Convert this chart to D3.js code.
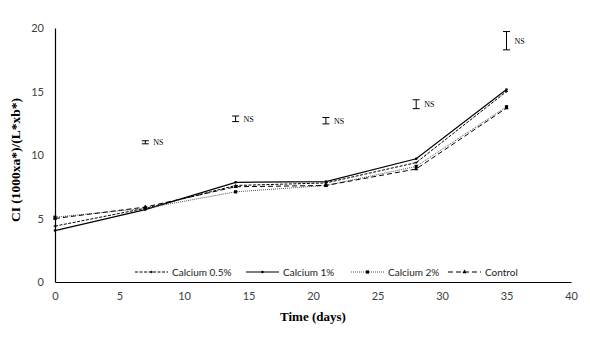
<!DOCTYPE html>
<html>
<head>
<meta charset="utf-8">
<script src="https://cdn.jsdelivr.net/npm/d3@7"></script>
<style>
  body { margin: 0; background: #fff; }
  svg { display: block; }
</style>
</head>
<body>
<div id="chart"></div>
<script>
(function() {
    'use strict';

    // --- data ---
    var days = [0, 7, 14, 21, 28, 35];
    var calcium05 = [4.4, 5.8, 7.6, 7.8, 9.4, 15.0];
    var calcium1 = [4.05, 5.7, 7.85, 7.9, 9.7, 15.15];
    var calcium2 = [5.1, 5.8, 7.1, 7.6, 9.1, 13.8];
    var control = [5.0, 5.9, 7.5, 7.6, 8.9, 13.7];

    // NS error bars (mean, half-width)
    var nsDays = [7, 14, 21, 28, 35];
    var nsMean = [11.0, 12.85, 12.7, 14.0, 19.0];
    var nsErr = [0.12, 0.22, 0.25, 0.35, 0.72];

    var xTicks = [0, 5, 10, 15, 20, 25, 30, 35, 40];
    var yTicks = [0, 5, 10, 15, 20];

    var series = [
        { name: 'Calcium 0.5%', values: calcium05, dash: '3,1.5', color: '#000', width: 1, marker: 'plus' },
        { name: 'Calcium 1%', values: calcium1, dash: null, color: '#000', width: 1.2, marker: 'dot' },
        { name: 'Calcium 2%', values: calcium2, dash: '1,1', color: '#555', width: 1, marker: 'square' },
        { name: 'Control', values: control, dash: '5,3', color: '#000', width: 1, marker: 'tri' }
    ];

    var width = 590, height = 343;
    var margin = { left: 55, top: 28, right: 19, bottom: 61 };

    var svg = d3.select('#chart').append('svg')
        .attr('width', width)
        .attr('height', height);

    var x = d3.scaleLinear().domain([0, 40]).range([margin.left, width - margin.right]);
    var y = d3.scaleLinear().domain([0, 20]).range([height - margin.bottom, margin.top]);

    var tickFont = '11px Lato, "Open Sans", sans-serif';
    var serif = '"Liberation Serif", "DejaVu Serif", serif';

    // axes
    var xAxis = svg.append('g')
        .attr('transform', 'translate(0,' + y(0) + ')')
        .call(d3.axisBottom(x).tickValues(xTicks).tickSize(0).tickPadding(10));
    xAxis.select('.domain').attr('stroke', '#000').attr('stroke-width', 1.2);
    xAxis.selectAll('text').style('font', tickFont).attr('fill', '#404040');

    var yAxis = svg.append('g')
        .attr('transform', 'translate(' + x(0) + ',0)')
        .call(d3.axisLeft(y).tickValues(yTicks).tickSize(0).tickPadding(11));
    yAxis.select('.domain').attr('stroke', '#000').attr('stroke-width', 1.2);
    yAxis.selectAll('text').style('font', tickFont).attr('fill', '#404040');

    // axis titles
    svg.append('text')
        .attr('x', (x(0) + x(40)) / 2)
        .attr('y', 321)
        .attr('text-anchor', 'middle')
        .style('font', 'bold 13px ' + serif)
        .text('Time (days)');

    svg.append('text')
        .attr('transform', 'translate(20,160) rotate(-90)')
        .attr('text-anchor', 'middle')
        .style('font', 'bold 13.5px ' + serif)
        .text('CI (1000xa*)/(L*xb*)');

    // lines
    var line = d3.line()
        .x(function(d, i) { return x(days[i]); })
        .y(function(d) { return y(d); });

    function drawMarker(g, type, cx, cy) {
        if (type === 'plus') {
            g.append('path').attr('d', 'M' + (cx - 1.5) + ',' + cy + 'h3M' + cx + ',' + (cy - 1.2) + 'v2.4')
                .attr('stroke', '#000').attr('stroke-width', 0.9);
        } else if (type === 'dot') {
            g.append('circle').attr('cx', cx).attr('cy', cy).attr('r', 1.3).attr('fill', '#000');
        } else if (type === 'square') {
            g.append('rect').attr('x', cx - 1.6).attr('y', cy - 1.6).attr('width', 3.2).attr('height', 3.2).attr('fill', '#000');
        } else if (type === 'tri') {
            g.append('path').attr('d', d3.symbol(d3.symbolTriangle, 8)()).attr('transform', 'translate(' + cx + ',' + cy + ')').attr('fill', '#000');
        }
    }

    series.forEach(function(s) {
        var g = svg.append('g');
        g.append('path')
            .datum(s.values)
            .attr('fill', 'none')
            .attr('stroke', s.color)
            .attr('stroke-width', s.width)
            .attr('stroke-dasharray', s.dash)
            .attr('d', line);
        s.values.forEach(function(v, i) {
            drawMarker(g, s.marker, x(days[i]), y(v));
        });
    });

    // NS error bars
    var ns = svg.append('g');
    nsDays.forEach(function(d, i) {
        var cx = x(d), top = y(nsMean[i] + nsErr[i]), bot = y(nsMean[i] - nsErr[i]);
        ns.append('path')
            .attr('d', 'M' + (cx - 3.5) + ',' + top + 'h7M' + cx + ',' + top + 'V' + bot + 'M' + (cx - 3.5) + ',' + bot + 'h7')
            .attr('stroke', '#000').attr('stroke-width', 1).attr('fill', 'none');
        ns.append('text')
            .attr('x', cx + 8)
            .attr('y', y(nsMean[i]) + 3)
            .style('font', '8px ' + serif)
            .text('NS');
    });

    // legend
    var legendY = 272;
    var legendX = [135, 246, 351, 448];
    var legend = svg.append('g');
    series.forEach(function(s, i) {
        var lx = legendX[i];
        legend.append('line')
            .attr('x1', lx).attr('x2', lx + 33)
            .attr('y1', legendY).attr('y2', legendY)
            .attr('stroke', s.color)
            .attr('stroke-width', s.width)
            .attr('stroke-dasharray', s.dash);
        drawMarker(legend, s.marker, lx + 16.5, legendY);
        legend.append('text')
            .attr('x', lx + 37)
            .attr('y', legendY + 3.5)
            .style('font', '10px Lato, "Open Sans", sans-serif')
            .attr('fill', '#222')
            .text(s.name);
    });
})();
</script>
</body>
</html>
